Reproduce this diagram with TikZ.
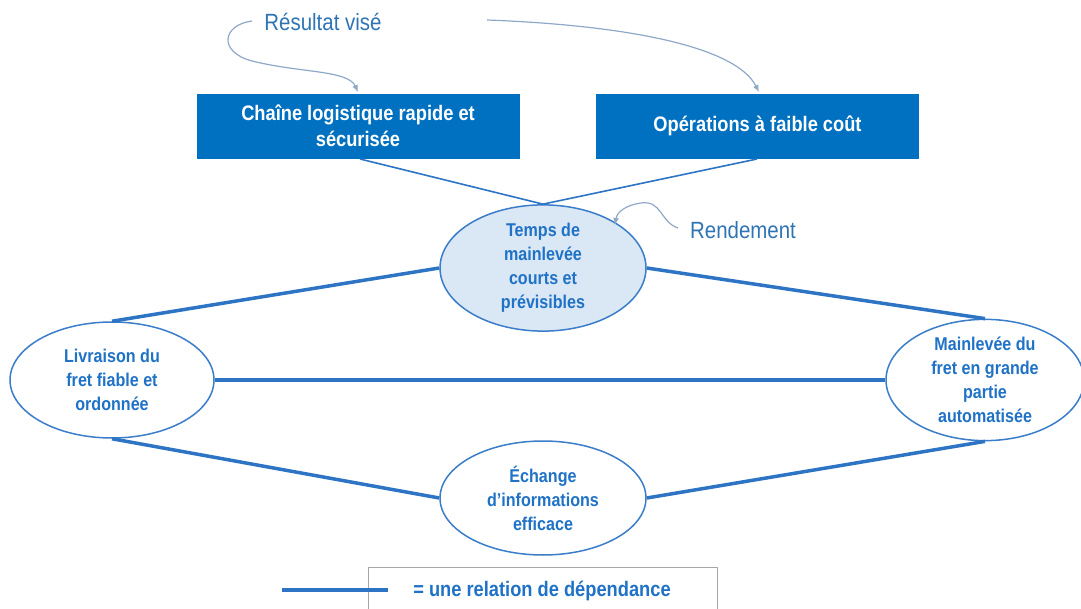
\documentclass[tikz,border=0pt]{standalone}
\usepackage{fontspec}
\setmainfont{Liberation Sans}[FakeStretch=0.87]
\usetikzlibrary{shapes.geometric,arrows.meta}
\definecolor{boxblue}{HTML}{0070C0}
\definecolor{linkblue}{HTML}{2E74C4}
\definecolor{rimblue}{HTML}{3A7DC8}
\definecolor{txtblue}{HTML}{1F72C6}
\definecolor{headblue}{HTML}{2E74B5}
\definecolor{paleblue}{HTML}{DAE7F5}
\definecolor{curvegray}{HTML}{8FA8C8}
\definecolor{legendgray}{HTML}{A6A6A6}
\tikzset{
  goalbox/.style={rectangle, fill=boxblue, draw=boxblue, text=white, minimum width=322pt, minimum height=64pt, inner sep=0pt, align=center, font=\fontsize{21}{26}\selectfont\bfseries},
  oval/.style={ellipse, draw=rimblue, line width=1.5pt, fill=white, inner sep=0pt, align=center, text=txtblue, font=\fontsize{18.5}{24}\selectfont\bfseries},
  heading/.style={text=headblue, font=\fontsize{23.5}{28}\selectfont, inner sep=0pt},
  deplink/.style={draw=linkblue, line width=3.5pt},
  thinlink/.style={draw=linkblue, line width=1.6pt},
  pointer/.style={draw=curvegray, line width=1.2pt, -{Latex[length=7pt,width=6pt]}},
}
\begin{document}
\begin{tikzpicture}[x=1pt,y=-1pt]
\useasboundingbox (0,0) rectangle (1081,609);
% outcome boxes
\node[goalbox] (chain) at (358,126) {Chaîne logistique rapide et\\sécurisée};
\node[goalbox] (ops) at (757.5,126) {Opérations à faible coût};
% headings
\node[heading] (res) at (323,22) {Résultat visé};
\node[heading] (rend) at (743,230) {Rendement};
% ellipses
\node[oval, fill=paleblue, minimum width=206pt, minimum height=114pt] (temps) at (543,268) {Temps de\\mainlevée\\courts et\\prévisibles};
\node[oval, minimum width=204pt, minimum height=116pt] (livr) at (112,380) {Livraison du\\fret fiable et\\ordonnée};
\node[oval, minimum width=198pt, minimum height=116pt] (mainl) at (985,380) {Mainlevée du\\fret en grande\\partie\\automatisée};
\node[oval, minimum width=206pt, minimum height=114pt] (echg) at (543,498) {Échange\\d’informations\\efficace};
% thin links from boxes
\coordinate (c1) at (360,159);
\coordinate (c2) at (757,159);
\draw[thinlink] (c1) -- (temps.north);
\draw[thinlink] (c2) -- (temps.north);
% dependency links
\draw[deplink] (temps.west) -- (livr.north);
\draw[deplink] (temps.east) -- (mainl.north);
\draw[deplink] (livr.east) -- (mainl.west);
\draw[deplink] (livr.south) -- (echg.west);
\draw[deplink] (echg.east) -- (mainl.south);
% curved pointers
\coordinate (s1) at (252,21);
\coordinate (s2) at (487,20);
\coordinate (s3) at (678,228);
\coordinate (a1) at (358,92);
\coordinate (a2) at (759,92);
\coordinate (a3) at (615,225);
\draw[pointer] (s1) .. controls (222,25) and (218,52) .. (252,61) .. controls (300,73) and (348,70) .. (a1);
\draw[pointer] (s2) .. controls (620,25) and (735,45) .. (a2);
\draw[pointer] (s3) .. controls (660,222) and (662,200) .. (641,203) .. controls (626,205) and (617,212) .. (a3);
% legend
\node[draw=legendgray, line width=1.2pt, fill=white, minimum width=349pt, minimum height=60pt, inner sep=0pt, anchor=north west] (legbox) at (368,567) {};
\node[text=txtblue, font=\fontsize{21}{26}\selectfont\bfseries, inner sep=0pt] (legtxt) at (542,591) {= une relation de dépendance};
\coordinate (l1) at (282,590);
\coordinate (l2) at (388,590);
\draw[deplink] (l1) -- (l2);
\end{tikzpicture}
\end{document}
